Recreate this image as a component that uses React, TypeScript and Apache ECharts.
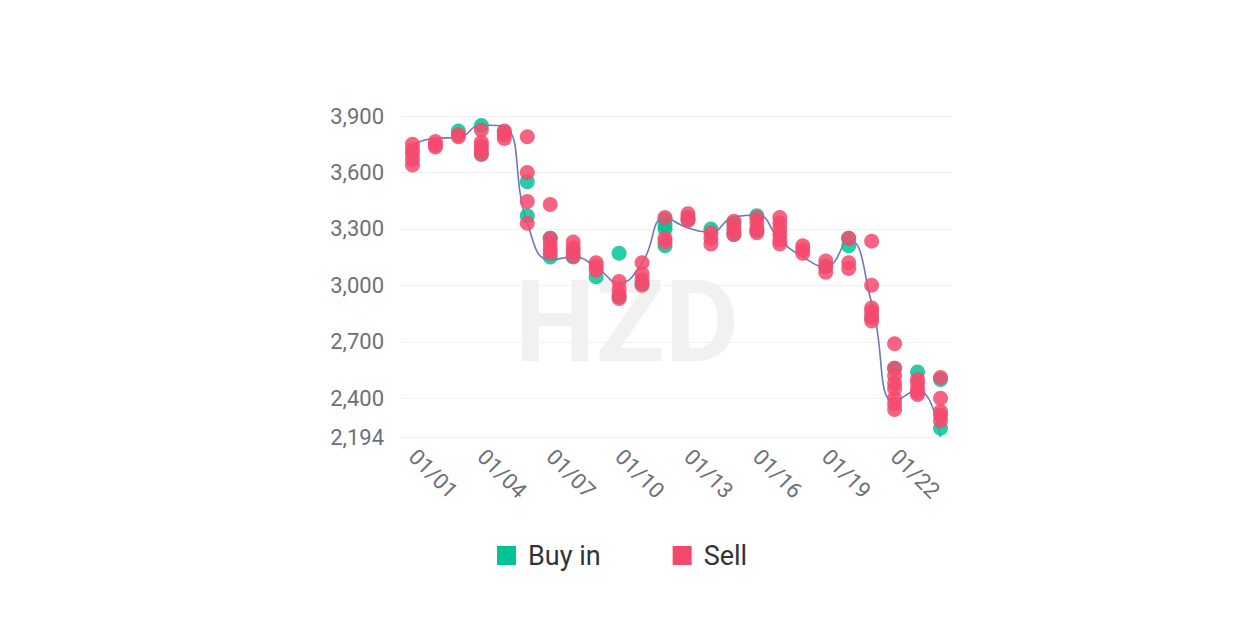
import { useEffect, useRef } from 'react';
import * as echarts from 'echarts';

const dates = [
  '01/01', '01/02', '01/03', '01/04', '01/05', '01/06', '01/07', '01/08',
  '01/09', '01/10', '01/11', '01/12', '01/13', '01/14', '01/15', '01/16',
  '01/17', '01/18', '01/19', '01/20', '01/21', '01/22', '01/23', '01/24',
];

const trend = [
  3746, 3782, 3786, 3852, 3842, 3332, 3135, 3151, 3098, 3013, 3120, 3358,
  3305, 3284, 3364, 3374, 3242, 3151, 3098, 3242, 2907, 2381, 2445, 2194,
];

const buyIn: number[][] = [
  [], [], [3820], [3850, 3700], [3815], [3550, 3370], [3250, 3150], [3150],
  [3045], [3170, 2940], [3010], [3350, 3320, 3300, 3210], [3350], [3300],
  [3330, 3270], [3370, 3290], [], [], [3100], [3250, 3210], [2830], [2560],
  [2540], [2500, 2240],
];

const sell: number[][] = [
  [3750, 3720, 3700, 3670, 3640],
  [3765, 3745, 3735],
  [3800, 3790],
  [3825, 3760, 3740, 3720, 3695],
  [3820, 3800, 3780],
  [3790, 3600, 3445, 3330],
  [3430, 3250, 3220, 3190, 3170],
  [3230, 3200, 3180, 3155],
  [3120, 3100, 3080],
  [3020, 2980, 2950, 2930],
  [3120, 3060, 3030, 3000],
  [3360, 3250, 3230],
  [3380, 3360, 3345],
  [3280, 3250, 3220],
  [3340, 3310, 3290, 3270],
  [3360, 3330, 3300, 3280],
  [3360, 3330, 3300, 3270, 3240, 3220],
  [3210, 3190, 3170],
  [3130, 3100, 3070],
  [3250, 3120, 3090],
  [3235, 3000, 2880, 2860, 2830, 2810],
  [2690, 2560, 2520, 2480, 2450, 2400, 2370, 2340],
  [2500, 2480, 2450, 2430, 2420],
  [2510, 2400, 2330, 2310, 2280],
];

const legendNames = ['Buy in', 'Sell'];

function toPoints(groups: number[][]) {
  return groups.flatMap((vals, i) => vals.map((v) => [dates[i], v]));
}

export default function App() {
  const ref = useRef<HTMLDivElement>(null);

  useEffect(() => {
    if (!ref.current) return;
    const chart = echarts.init(ref.current, null, { renderer: 'svg' });
    const font = 'Roboto, "Noto Sans", sans-serif';
    chart.setOption({
      animation: false,
      backgroundColor: '#ffffff',
      textStyle: { fontFamily: font },
      graphic: [
        {
          type: 'text',
          left: 'center',
          top: 265,
          z: -10,
          silent: true,
          style: {
            text: 'HZD',
            fontSize: 114,
            fontWeight: 'bold',
            fontFamily: font,
            fill: '#f1f1f1',
          },
        },
      ],
      grid: { left: 401, right: 302, top: 116, bottom: 204 },
      legend: {
        data: legendNames,
        left: 492,
        top: 537,
        icon: 'rect',
        itemWidth: 19,
        itemHeight: 19,
        itemGap: 72,
        itemStyle: { opacity: 1 },
        textStyle: {
          fontSize: 27,
          color: '#333333',
          fontFamily: font,
          padding: [0, 0, 0, 7],
        },
      },
      xAxis: {
        type: 'category',
        data: dates,
        boundaryGap: true,
        axisLine: { show: false },
        axisTick: { show: false },
        axisLabel: {
          interval: 2,
          rotate: -45,
          margin: 16,
          fontSize: 22,
          color: '#6e7079',
          fontFamily: font,
        },
        splitLine: { show: false },
      },
      yAxis: {
        type: 'value',
        min: 'dataMin',
        max: 3900,
        axisLine: { show: false },
        axisTick: { show: false },
        axisLabel: {
          margin: 17,
          fontSize: 22,
          color: '#6e7079',
          fontFamily: font,
          formatter: (v: number) => v.toLocaleString('en-US'),
        },
        splitLine: { lineStyle: { color: '#f1f1f1', width: 1 } },
      },
      series: [
        {
          name: 'trend',
          type: 'line',
          data: trend,
          smooth: true,
          showSymbol: false,
          z: 1,
          lineStyle: { color: '#6f74c6', width: 1.6 },
          itemStyle: { color: '#6f74c6' },
        },
        {
          name: 'Buy in',
          type: 'scatter',
          data: toPoints(buyIn),
          symbolSize: 15,
          z: 2,
          itemStyle: { color: '#00c496', opacity: 0.85 },
        },
        {
          name: 'Sell',
          type: 'scatter',
          data: toPoints(sell),
          symbolSize: 15,
          z: 3,
          itemStyle: { color: '#f4496d', opacity: 0.85 },
        },
      ],
    });
    return () => chart.dispose();
  }, []);

  return (
    <div
      ref={ref}
      style={{ position: 'fixed', left: 0, top: 0, width: 1254, height: 641 }}
    />
  );
}
